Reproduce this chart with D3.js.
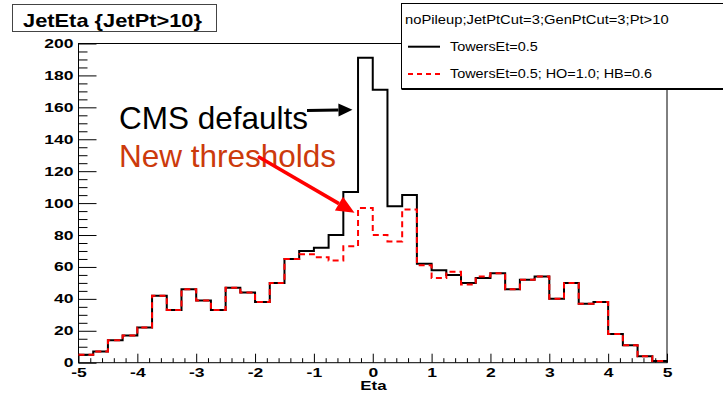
<!DOCTYPE html>
<html>
<head>
<meta charset="utf-8">
<script src="https://cdn.jsdelivr.net/npm/d3@7"></script>
<style>
  body { margin: 0; background: #fff; }
  svg { display: block; font-family: "Liberation Sans", Arial, sans-serif; }
</style>
</head>
<body>
<svg id="chart" width="723" height="393"></svg>
<script>
// bin width 0.25 from -5 to 5 (40 bins)
const binStart = -5, binWidth = 0.25;
const defaults = [5, 7, 14, 17, 22, 42, 33, 46, 39, 33, 47, 44, 38, 50, 65, 70, 72, 80, 107, 191,
                  171, 98, 105, 62, 58, 55, 50, 53, 56, 46, 52, 54, 40, 50, 37, 38, 18, 11, 4, 1];
const newThresholds = [5, 7, 14, 17, 22, 42, 33, 46, 39, 33, 47, 44, 38, 50, 65, 68, 66, 64, 73, 97,
                  80, 76, 96, 61, 53, 57, 49, 54, 56, 46, 52, 54, 40, 50, 37, 38, 18, 11, 4, 1];
const xTicks = [-5, -4, -3, -2, -1, 0, 1, 2, 3, 4, 5];
const yTicks = [0, 20, 40, 60, 80, 100, 120, 140, 160, 180, 200];
const legendHeader = "noPileup;JetPtCut=3;GenPtCut=3;Pt>10";
const legendLabels = ["TowersEt=0.5", "TowersEt=0.5; HO=1.0; HB=0.6"];

const svg = d3.select("#chart");
const frame = {left: 78.5, right: 667, top: 43.5, bottom: 362.7};

const x = d3.scaleLinear().domain([-5, 5]).range([frame.left, frame.right]);
const y = d3.scaleLinear().domain([0, 200]).range([frame.bottom, frame.top]);

// ROOT pictures come out stretched sideways, squeeze text the same way
const stretch = function(sel, sx) {
  sel.each(function() {
    const w = this.getComputedTextLength();
    d3.select(this).attr("textLength", w * sx).attr("lengthAdjust", "spacingAndGlyphs");
  });
};

// title box
svg.append("rect")
  .attr("x", 12.5).attr("y", 4.5).attr("width", 204).attr("height", 27)
  .attr("fill", "#fff").attr("stroke", "#444");
svg.append("text")
  .attr("x", 23).attr("y", 26.5)
  .attr("font-size", 18.5).attr("font-weight", "bold")
  .text("JetEta {JetPt>10}")
  .call(stretch, 1.18);

// frame
svg.append("rect")
  .attr("x", frame.left).attr("y", frame.top)
  .attr("width", frame.right - frame.left).attr("height", frame.bottom - frame.top)
  .attr("fill", "none").attr("stroke", "#000");

// y axis
const yMinor = d3.range(0, 201, 5).filter(d => d % 20 !== 0);
svg.append("g")
  .attr("transform", `translate(${frame.left},0)`)
  .call(d3.axisLeft(y).tickValues(yMinor).tickSize(-9).tickFormat(""))
  .call(g => g.select(".domain").remove());
const yAxis = svg.append("g")
  .attr("transform", `translate(${frame.left},0)`)
  .call(d3.axisLeft(y).tickValues(yTicks).tickSize(-18).tickPadding(5).tickFormat(d => String(d)))
  .call(g => g.select(".domain").remove());
yAxis.selectAll("text")
  .attr("font-family", null).attr("font-size", 12.5).attr("font-weight", "bold")
  .call(stretch, 1.4);

// x axis
const xMinor = d3.range(0, 51).map(i => -5 + i * 0.2).filter(d => Math.abs(d - Math.round(d)) > 1e-6);
svg.append("g")
  .attr("transform", `translate(0,${frame.bottom})`)
  .call(d3.axisBottom(x).tickValues(xMinor).tickSize(-4.5).tickFormat(""))
  .call(g => g.select(".domain").remove());
const xAxis = svg.append("g")
  .attr("transform", `translate(0,${frame.bottom})`)
  .call(d3.axisBottom(x).tickValues(xTicks).tickSize(-9).tickPadding(5).tickFormat(d => String(d)))
  .call(g => g.select(".domain").remove());
xAxis.selectAll("text")
  .attr("font-family", null).attr("font-size", 12.5).attr("font-weight", "bold")
  .call(stretch, 1.4);

svg.append("text")
  .attr("x", 373.5).attr("y", 390)
  .attr("text-anchor", "middle")
  .attr("font-size", 12.5).attr("font-weight", "bold")
  .text("Eta")
  .call(stretch, 1.35);

// histograms as step outlines
const stepLine = d3.line()
  .x(d => x(d[0]))
  .y(d => y(d[1]))
  .curve(d3.curveStepAfter);
const toSteps = vals => {
  const pts = vals.map((v, i) => [binStart + i * binWidth, v]);
  pts.push([binStart + vals.length * binWidth, vals[vals.length - 1]]);
  return pts;
};

svg.append("path")
  .attr("d", stepLine(toSteps(defaults)))
  .attr("fill", "none").attr("stroke", "#000").attr("stroke-width", 2);
svg.append("path")
  .attr("d", stepLine(toSteps(newThresholds)))
  .attr("fill", "none").attr("stroke", "#ff0000").attr("stroke-width", 2)
  .attr("stroke-dasharray", "6,4");

// legend
const legend = svg.append("g");
legend.append("rect")
  .attr("x", 401.5).attr("y", 3.5).attr("width", 340).attr("height", 85)
  .attr("fill", "#fff").attr("stroke", "#000");
legend.append("line")
  .attr("x1", 401.5).attr("x2", 723).attr("y1", 89).attr("y2", 89)
  .attr("stroke", "#000").attr("stroke-width", 2);
legend.append("text")
  .attr("x", 405).attr("y", 24)
  .attr("font-size", 12.5)
  .text(legendHeader)
  .call(stretch, 1.18);
legend.append("line")
  .attr("x1", 408).attr("x2", 440).attr("y1", 46.7).attr("y2", 46.7)
  .attr("stroke", "#000").attr("stroke-width", 2);
legend.append("line")
  .attr("x1", 408).attr("x2", 442).attr("y1", 74).attr("y2", 74)
  .attr("stroke", "#ff0000").attr("stroke-width", 2).attr("stroke-dasharray", "5,4");
legend.selectAll("text.entry")
  .data(legendLabels)
  .join("text")
  .attr("class", "entry")
  .attr("x", 450).attr("y", (d, i) => 50.5 + i * 27.5)
  .attr("font-size", 12)
  .text(d => d)
  .call(stretch, 1.2);

// annotations
const drawArrow = function(g, x1, y1, x2, y2, color, width, headLen, headWidth) {
  const a = Math.atan2(y2 - y1, x2 - x1),
        bx = x2 - headLen * Math.cos(a),
        by = y2 - headLen * Math.sin(a),
        px = Math.sin(a) * headWidth / 2,
        py = -Math.cos(a) * headWidth / 2;
  g.append("line")
    .attr("x1", x1).attr("y1", y1).attr("x2", bx).attr("y2", by)
    .attr("stroke", color).attr("stroke-width", width);
  g.append("path")
    .attr("d", `M${x2},${y2}L${bx + px},${by + py}L${bx - px},${by - py}Z`)
    .attr("fill", color);
};

const notes = svg.append("g");
notes.append("text")
  .attr("x", 119).attr("y", 129)
  .attr("font-size", 31.5).attr("fill", "#000")
  .text("CMS defaults");
notes.append("text")
  .attr("x", 119).attr("y", 167.3)
  .attr("font-size", 31.5).attr("fill", "#cc3a0c")
  .text("New thresholds");

drawArrow(notes, 307, 110.5, x(-0.345), y(158.5), "#000", 3, 14, 13);
drawArrow(notes, 258, 156.5, x(-0.31), y(94), "#ff0000", 3.5, 18, 16);
</script>
</body>
</html>
